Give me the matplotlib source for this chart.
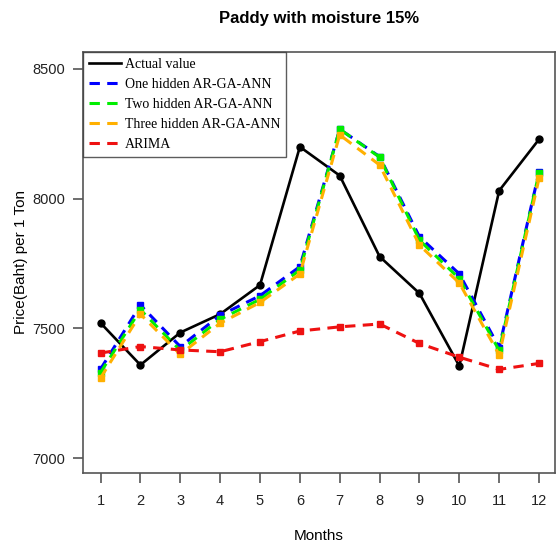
import matplotlib.pyplot as plt

months = list(range(1, 13))
actual = [7521, 7359, 7484, 7555, 7667, 8200, 8089, 7777, 7635, 7355, 8031, 8229]
one_hidden = [7343, 7590, 7430, 7550, 7626, 7738, 8268, 8162, 7853, 7710, 7426, 8104]
two_hidden = [7330, 7572, 7415, 7535, 7612, 7725, 8268, 8160, 7840, 7692, 7415, 8100]
three_hidden = [7309, 7555, 7400, 7520, 7600, 7710, 8246, 8130, 7821, 7675, 7398, 8079]
arima = [7405, 7430, 7417, 7410, 7449, 7490, 7506, 7517, 7442, 7389, 7342, 7365]

plt.rcParams['font.family'] = ['Liberation Sans', 'DejaVu Sans']

fig = plt.figure(figsize=(5.56, 5.43), dpi=100)
ax = fig.add_axes([83/556, 70/543, 472/556, 421/543])

dash = (3.4, 2.4)
ax.plot(months, actual, color='black', lw=1.9, marker='o', ms=5,
        label='Actual value', zorder=3)
ax.plot(months, one_hidden, color='#0000ff', lw=2.2, dashes=dash,
        marker='s', ms=4.5, label='One hidden AR-GA-ANN', zorder=4)
ax.plot(months, two_hidden, color='#00ee00', lw=2.2, dashes=dash,
        marker='s', ms=4.5, label='Two hidden AR-GA-ANN', zorder=4)
ax.plot(months, three_hidden, color='#ffb000', lw=2.2, dashes=dash,
        marker='s', ms=4.5, label='Three hidden AR-GA-ANN', zorder=4)
ax.plot(months, arima, color='#ee1111', lw=2.2, dashes=dash,
        marker='s', ms=4.5, label='ARIMA', zorder=4)

ax.set_xlim(0.56, 12.40)
ax.set_ylim(6942.6, 8565.5)
ax.set_xticks(months)
ax.set_yticks([7000, 7500, 8000, 8500])

for s in ax.spines.values():
    s.set_color('#555555')
    s.set_linewidth(1.2)
ax.tick_params(axis='both', length=7, width=1.2, color='#555555',
               labelsize=10.5, labelcolor='#222222', pad=6)
ax.tick_params(axis='x', pad=8)

ax.set_xlabel('Months', fontsize=11, labelpad=15)
ax.set_ylabel('Price(Baht) per 1 Ton', fontsize=11, labelpad=3)
fig.text(319/556, 1 - 18/543, 'Paddy with moisture 15%', ha='center',
         va='center', fontsize=12, fontweight='bold')

leg = ax.legend(loc='upper left', borderaxespad=0, frameon=True, fancybox=False,
                prop={'family': 'Liberation Serif', 'size': 10},
                handlelength=2.3, handletextpad=0.25, labelspacing=0.5,
                borderpad=0.45)
leg.get_frame().set_edgecolor('#333333')
leg.get_frame().set_linewidth(1.0)
for h in leg.get_lines():
    h.set_marker('')

fig.savefig('out.png', dpi=100)
